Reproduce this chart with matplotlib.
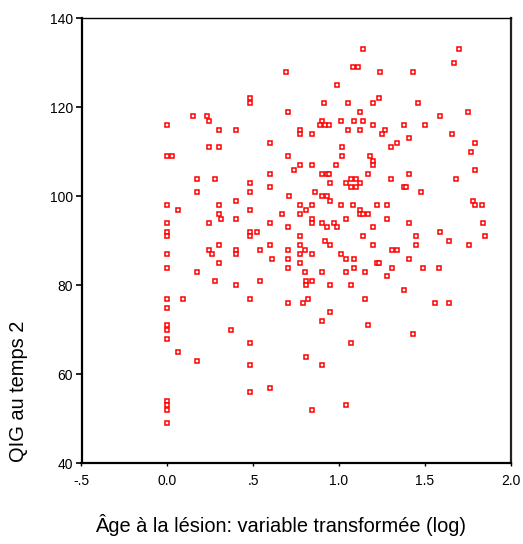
import matplotlib
matplotlib.use("Agg")
import matplotlib.pyplot as plt

plt.rcParams['font.family'] = ['Liberation Sans', 'DejaVu Sans']

# Age a la lesion (log) - groupe a 0.0
age_zero = [0.0] * 17
qig_zero = [116, 109, 98, 94, 92, 91, 87, 84, 77, 75, 71, 70, 68, 54, 53, 52, 49]

# autres sujets
age_log = [0.03, 0.06, 0.06, 0.09, 0.15, 0.17, 0.17, 0.17, 0.17, 0.23,
           0.24, 0.24, 0.24, 0.24, 0.26, 0.28, 0.28, 0.30, 0.30, 0.30,
           0.30, 0.31, 0.30, 0.30, 0.37, 0.40, 0.40, 0.40, 0.40, 0.40,
           0.40, 0.48, 0.48, 0.48, 0.48, 0.48, 0.48, 0.48, 0.48, 0.48,
           0.48, 0.48, 0.52, 0.54, 0.54, 1.14, 1.08, 1.11, 0.69, 0.99,
           0.91, 1.05, 0.70, 1.12, 0.90, 1.01, 1.09, 1.14, 0.89, 0.92,
           0.94, 0.77, 1.05, 1.12, 0.77, 0.84, 0.60, 1.02, 0.70, 1.02,
           0.77, 0.84, 0.98, 0.74, 0.60, 0.90, 0.93, 0.94, 0.95, 1.04,
           1.07, 1.10, 1.12, 1.07, 1.10, 0.60, 0.71, 0.86, 0.90, 0.93,
           0.95, 0.77, 0.84, 1.01, 1.08, 0.81, 1.12, 0.67, 0.77, 1.12,
           1.14, 0.84, 1.04, 0.60, 0.84, 0.90, 0.93, 0.97, 0.99, 0.70,
           0.77, 0.92, 1.14, 0.60, 0.77, 0.95, 0.70, 0.80, 0.77, 0.84,
           1.01, 0.61, 0.70, 1.04, 1.09, 0.77, 0.70, 1.09, 0.80, 0.90,
           1.04, 1.15, 0.81, 0.84, 0.81, 0.95, 1.07, 0.82, 0.70, 0.79,
           1.15, 0.95, 0.90, 1.07, 0.81, 0.90, 0.60, 1.04, 0.84, 1.70,
           1.67, 1.24, 1.43, 1.23, 1.20, 1.46, 1.59, 1.75, 1.20, 1.38,
           1.50, 1.27, 1.25, 1.66, 1.41, 1.34, 1.30, 1.79, 1.77, 1.18,
           1.20, 1.20, 1.79, 1.17, 1.41, 1.30, 1.68, 1.38, 1.39, 1.48,
           1.78, 1.79, 1.83, 1.22, 1.28, 1.17, 1.28, 1.41, 1.84, 1.20,
           1.59, 1.45, 1.64, 1.85, 1.20, 1.45, 1.76, 1.31, 1.34, 1.41,
           1.22, 1.23, 1.31, 1.49, 1.58, 1.28, 1.38, 1.56, 1.64, 1.17,
           1.43]
qig_t2 = [109, 97, 65, 77, 118, 104, 101, 83, 63, 118,
          117, 111, 94, 88, 87, 104, 81, 115, 111, 98,
          96, 95, 89, 85, 70, 115, 99, 95, 88, 87,
          80, 122, 121, 103, 101, 97, 92, 91, 77, 67,
          62, 56, 92, 88, 81, 133, 129, 129, 128, 125,
          121, 121, 119, 119, 117, 117, 117, 117, 116, 116,
          116, 115, 115, 115, 114, 114, 112, 111, 109, 109,
          107, 107, 107, 106, 105, 105, 105, 105, 103, 103,
          104, 104, 103, 102, 102, 102, 100, 101, 100, 100,
          99, 98, 98, 98, 98, 97, 97, 96, 96, 96,
          96, 95, 95, 94, 94, 94, 93, 94, 93, 93,
          91, 90, 91, 89, 89, 89, 88, 88, 87, 87,
          87, 86, 86, 86, 86, 85, 84, 84, 83, 83,
          83, 83, 81, 81, 80, 80, 80, 77, 76, 76,
          77, 74, 72, 67, 64, 62, 57, 53, 52, 133,
          130, 128, 128, 122, 121, 121, 118, 119, 116, 116,
          116, 115, 114, 114, 113, 112, 111, 112, 110, 109,
          108, 107, 106, 105, 105, 104, 104, 102, 102, 101,
          99, 98, 98, 98, 98, 96, 95, 94, 94, 93,
          92, 91, 90, 91, 89, 89, 89, 88, 88, 86,
          85, 85, 84, 84, 84, 82, 79, 76, 76, 71,
          69]

x_ticks = [-0.5, 0.0, 0.5, 1.0, 1.5, 2.0]
x_tick_labels = ["-.5", "0.0", ".5", "1.0", "1.5", "2.0"]
y_ticks = [40, 60, 80, 100, 120, 140]

fig = plt.figure(figsize=(5.23, 5.44), dpi=100)
ax = fig.add_axes([81.5 / 523, 1 - 463.3 / 544, (510.7 - 81.5) / 523, (463.3 - 18.3) / 544])

ax.plot(age_zero + age_log, qig_zero + qig_t2, linestyle="none", marker="s",
        markersize=3.0, markeredgewidth=1.1, markeredgecolor="#ff0000",
        markerfacecolor="white", clip_on=False)

ax.set_xlim(-0.5, 2.0)
ax.set_ylim(40, 140)
ax.set_xticks(x_ticks)
ax.set_xticklabels(x_tick_labels)
ax.set_yticks(y_ticks)

ax.tick_params(axis="y", direction="out", length=4, width=1.2, labelsize=10, pad=2, color="black")
ax.tick_params(axis="x", direction="out", length=2, width=1.0, labelsize=10, pad=6, color="black")

for side in ["left", "bottom"]:
    ax.spines[side].set_linewidth(1.6)
ax.spines["top"].set_linewidth(1.0)
ax.spines["right"].set_linewidth(1.6)
ax.spines["right"].set_color("#222222")

fig.text(281 / 523, 1 - 525 / 544, "Âge à la lésion: variable transformée (log)",
         ha="center", va="center", fontsize=14.4)
fig.text(19 / 523, 1 - 391 / 544, "QIG au temps 2", ha="center", va="center",
         rotation=90, fontsize=14.4)

fig.savefig("out.png", dpi=100)
